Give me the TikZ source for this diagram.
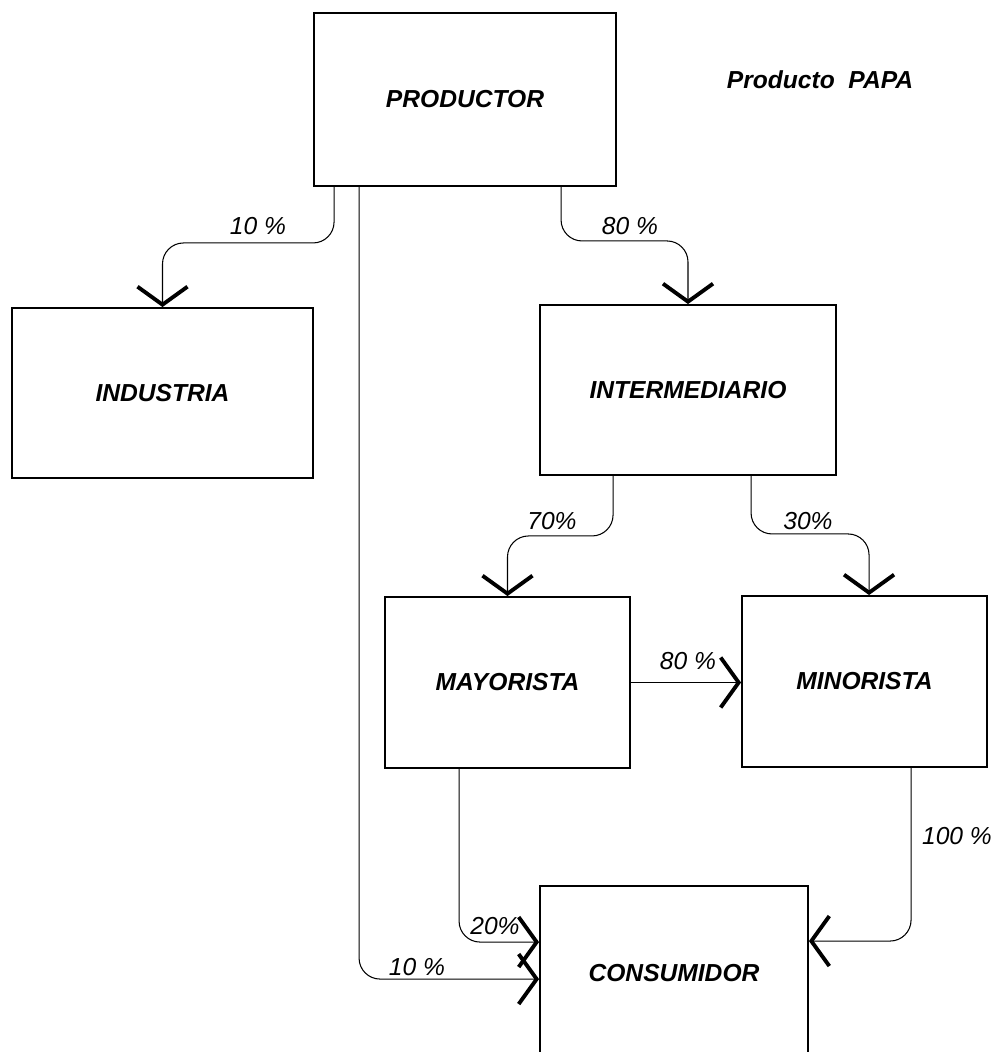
\documentclass[tikz,border=0pt]{standalone}
\usepackage{fontspec}
\setmainfont{Liberation Sans}
\usetikzlibrary{arrows.meta,calc}

\begin{document}
\begin{tikzpicture}[x=0.02cm,y=-0.02cm,
    box/.style={draw,line width=1.1pt,inner sep=0pt,font=\fontsize{14}{16}\selectfont\bfseries\itshape},
    flow/.style={line width=0.6pt,rounded corners=0.42cm,-{Straight Barb[length=0.36cm,width=1cm,line width=2.2pt]}},
    pct/.style={font=\fontsize{14}{16}\selectfont\itshape,inner sep=1pt}]
    \useasboundingbox (0,0) rectangle (1000,1052);
    %% boxes
    \node[box,minimum width=6.04cm,minimum height=3.46cm] (prod) at (465,99.5) {PRODUCTOR};
    \node[box,minimum width=6.02cm,minimum height=3.4cm] (ind) at (162.5,393) {INDUSTRIA};
    \node[box,minimum width=5.92cm,minimum height=3.4cm] (inter) at (688,390) {INTERMEDIARIO};
    \node[box,minimum width=4.9cm,minimum height=3.42cm] (may) at (507.5,682.5) {MAYORISTA};
    \node[box,minimum width=4.9cm,minimum height=3.42cm] (min) at (864.5,681.5) {MINORISTA};
    \node[box,minimum width=5.36cm,minimum height=3.48cm] (cons) at (674,973) {CONSUMIDOR};
    \node[font=\fontsize{14}{16}\selectfont\bfseries\itshape] (title) at (820,80) {Producto\ \ PAPA};
    %% from productor
    \draw[flow] ($(prod.south west)+(21,0)$) -- ++(0,56) -| (ind.north);
    \draw[flow] ($(prod.south west)+(248,0)$) -- ++(0,54) -| (inter.north);
    \draw[flow] ($(prod.south west)+(46,0)$) |- ($(cons.north west)+(0,94)$);
    %% from intermediario
    \draw[flow] ($(inter.south west)+(74,0)$) -- ++(0,60) -| (may.north);
    \draw[flow] ($(inter.south west)+(212,0)$) -- ++(0,58) -| ($(min.north west)+(128,0)$);
    %% mayorista and minorista
    \draw[flow] (may.east) -- (may.east -| min.west);
    \draw[flow] ($(may.south west)+(75,0)$) |- ($(cons.north west)+(0,57)$);
    \draw[flow] ($(min.south west)+(170,0)$) |- ($(cons.north east)+(0,56)$);
    %% percentages
    \node[pct] (p10i) at (258,226) {10 \%};
    \node[pct] (p80p) at (630,226) {80 \%};
    \node[pct] (p70) at (552,521) {70\%};
    \node[pct] (p30) at (808,521) {30\%};
    \node[pct] (p80m) at (688,661) {80 \%};
    \node[pct] (p20) at (495,926) {20\%};
    \node[pct] (p10c) at (417,967) {10 \%};
    \node[pct] (p100) at (957,836) {100 \%};
\end{tikzpicture}
\end{document}
